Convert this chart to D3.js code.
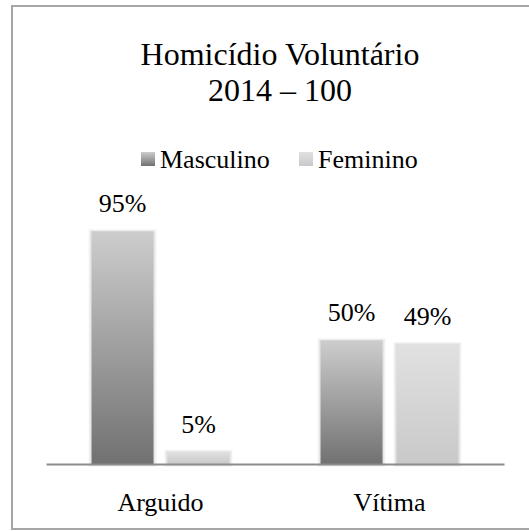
<!DOCTYPE html>
<html>
<head>
<meta charset="utf-8">
<script src="https://cdn.jsdelivr.net/npm/d3@7"></script>
<style>
  body { margin: 0; background: #fff; }
  svg { display: block; }
</style>
</head>
<body>
<svg width="529" height="531"></svg>
<script>
// chart data
const categories = ['Arguido', 'Vítima'];
const series = ['Masculino', 'Feminino'];
const masculino = [0.95, 0.505];
const feminino = [0.05, 0.49];
const valueLabels = [['95%', '50%'], ['5%', '49%']];
const titleLines = ['Homicídio Voluntário', '2014 – 100'];

const FONT = 'Liberation Serif';

const svg = d3.select('svg');

// frame (runs off the right edge in the original)
svg.append('rect')
  .attr('x', 12).attr('y', 6)
  .attr('width', 540).attr('height', 523)
  .attr('fill', 'none')
  .attr('stroke', '#a6a6a6')
  .attr('stroke-width', 2);

const defs = svg.append('defs');
const grads = [
  { id: 'g-masc', top: '#cdcdcd', bottom: '#717171' },
  { id: 'g-fem', top: '#e1e1e1', bottom: '#c9c9c9' }
];
grads.forEach(g => {
  const lg = defs.append('linearGradient')
    .attr('id', g.id)
    .attr('x1', 0).attr('y1', 0).attr('x2', 0).attr('y2', 1);
  lg.append('stop').attr('offset', '0%').attr('stop-color', g.top);
  lg.append('stop').attr('offset', '100%').attr('stop-color', g.bottom);
});

const color = d3.scaleOrdinal().domain(series).range(['url(#g-masc)', 'url(#g-fem)']);

// title
svg.append('g').selectAll('text')
  .data(titleLines)
  .join('text')
  .attr('x', 280)
  .attr('y', (d, i) => 65 + i * 36)
  .attr('text-anchor', 'middle')
  .style('font-family', FONT)
  .style('font-size', '32px')
  .text(d => d);

// legend
const legend = svg.append('g').selectAll('g')
  .data(series)
  .join('g')
  .attr('transform', (d, i) => `translate(${[141, 299][i]},0)`);
legend.append('rect')
  .attr('x', 0).attr('y', 152)
  .attr('width', 14).attr('height', 14)
  .attr('fill', d => color(d));
legend.append('text')
  .attr('x', 19).attr('y', 168)
  .style('font-family', FONT)
  .style('font-size', '26px')
  .text(d => d);

// scales
const x0 = d3.scaleBand().domain(categories).range([46, 504]);
const x1 = d3.scaleBand().domain(series).range([0, x0.bandwidth()])
  .paddingInner(0.184).paddingOuter(0.6);
const y = d3.scaleLinear().domain([0, 1]).range([464, 219]);

const rows = categories.map((c, i) => ({
  cat: c,
  vals: [
    { s: series[0], v: masculino[i], label: valueLabels[0][i] },
    { s: series[1], v: feminino[i], label: valueLabels[1][i] }
  ]
}));

const groups = svg.append('g').selectAll('g')
  .data(rows)
  .join('g')
  .attr('transform', d => `translate(${x0(d.cat)},0)`);

// soft shadow made of a few faint outlines
const bars = groups.selectAll('g.bar')
  .data(d => d.vals)
  .join('g')
  .attr('class', 'bar');
[3, 2, 1].forEach(k => {
  bars.append('rect')
    .attr('x', d => x1(d.s) - k)
    .attr('y', d => y(d.v) - k + 1)
    .attr('width', x1.bandwidth() + 2 * k)
    .attr('height', d => y(0) - y(d.v) + 2 * k - 1)
    .attr('fill', '#000')
    .attr('fill-opacity', 0.04);
});
bars.append('rect')
  .attr('x', d => x1(d.s))
  .attr('y', d => y(d.v))
  .attr('width', x1.bandwidth())
  .attr('height', d => y(0) - y(d.v))
  .attr('fill', d => color(d.s));

groups.selectAll('text')
  .data(d => d.vals)
  .join('text')
  .attr('x', d => x1(d.s) + x1.bandwidth() / 2)
  .attr('y', d => y(d.v) - 19)
  .attr('text-anchor', 'middle')
  .style('font-family', FONT)
  .style('font-size', '26px')
  .text(d => d.label);

// x axis
const xAxis = svg.append('g')
  .attr('transform', `translate(0,${y(0)})`)
  .call(d3.axisBottom(x0).tickSize(0).tickPadding(29));
xAxis.select('.domain').attr('stroke', '#8c8c8c').attr('stroke-width', 2);
xAxis.selectAll('text')
  .style('font-family', FONT)
  .style('font-size', '26px')
  .attr('fill', '#000');
</script>
</body>
</html>
